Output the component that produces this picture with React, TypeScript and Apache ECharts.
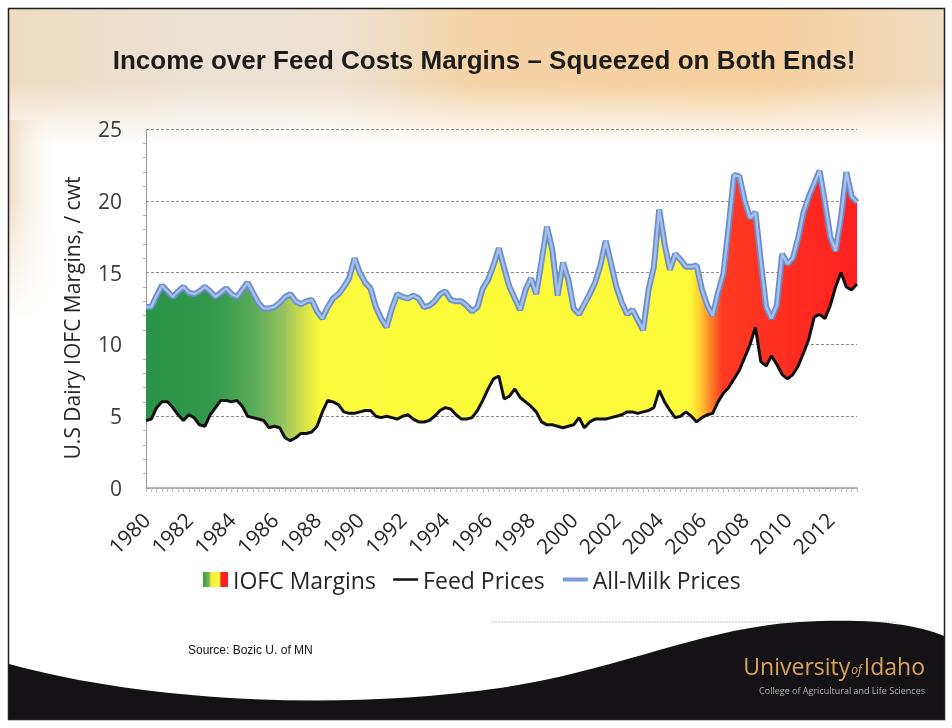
import React, { useEffect, useRef } from "react";
import * as echarts from "echarts";

// ---- Data (quarterly, 1980 Q1 .. 2013 Q2), $/cwt ----
const startYear = 1980;
const quarterCount = 134;

const milkPrices = [
  12.6, 12.6, 13.4, 14.1, 13.7, 13.3, 13.7, 14.0, 13.6, 13.5,
  13.7, 14.0, 13.7, 13.3, 13.6, 13.9, 13.5, 13.3, 13.8, 14.3,
  13.6, 12.9, 12.5, 12.5, 12.6, 12.9, 13.3, 13.5, 13.0, 12.8,
  13.0, 13.1, 12.3, 11.8, 12.6, 13.2, 13.5, 14.0, 14.6, 16.0,
  15.0, 14.3, 13.9, 12.6, 11.8, 11.2, 12.5, 13.5, 13.3, 13.2,
  13.4, 13.2, 12.6, 12.7, 13.0, 13.5, 13.7, 13.1, 13.0, 13.0,
  12.7, 12.3, 12.6, 13.9, 14.5, 15.5, 16.7, 15.3, 14.0, 13.2,
  12.4, 13.8, 14.6, 13.5, 15.8, 18.2, 16.6, 13.4, 15.7, 14.5,
  12.5, 12.1, 12.8, 13.5, 14.3, 15.5, 17.2, 15.6, 14.0, 12.9,
  12.1, 12.4, 11.7, 11.0, 13.8, 15.4, 19.4, 17.0, 15.2, 16.3,
  15.9, 15.4, 15.4, 15.5, 13.8, 12.7, 12.0, 13.6, 14.9, 18.2,
  21.8, 21.7, 20.0, 18.8, 19.2, 15.8, 12.6, 11.8, 12.7, 16.3,
  15.6, 16.0, 17.4, 19.2, 20.3, 21.2, 22.1, 19.9, 17.5, 16.5,
  18.8, 22.0, 20.3, 19.9,
];

const feedPrices = [
  4.7, 4.8, 5.6, 6.0, 6.0, 5.6, 5.1, 4.7, 5.1, 4.9,
  4.4, 4.3, 5.1, 5.6, 6.1, 6.1, 6.0, 6.1, 5.7, 5.0,
  4.9, 4.8, 4.7, 4.2, 4.3, 4.2, 3.5, 3.3, 3.5, 3.8,
  3.8, 3.9, 4.3, 5.3, 6.1, 6.0, 5.8, 5.3, 5.2, 5.2,
  5.3, 5.4, 5.4, 5.0, 4.9, 5.0, 4.9, 4.8, 5.0, 5.1,
  4.8, 4.6, 4.6, 4.7, 5.0, 5.4, 5.6, 5.5, 5.1, 4.8,
  4.8, 4.9, 5.4, 6.1, 6.9, 7.6, 7.8, 6.2, 6.4, 6.9,
  6.3, 6.0, 5.7, 5.3, 4.6, 4.4, 4.4, 4.3, 4.2, 4.3,
  4.4, 4.9, 4.2, 4.6, 4.8, 4.8, 4.8, 4.9, 5.0, 5.1,
  5.3, 5.3, 5.2, 5.3, 5.4, 5.6, 6.8, 6.0, 5.4, 4.9,
  5.0, 5.3, 5.0, 4.6, 4.9, 5.1, 5.2, 6.0, 6.6, 7.0,
  7.6, 8.2, 9.1, 10.0, 11.2, 8.8, 8.5, 9.2, 8.6, 7.9,
  7.6, 7.9, 8.5, 9.4, 10.4, 11.9, 12.1, 11.8, 12.7, 14.0,
  15.0, 14.0, 13.8, 14.2,
];

const legendNames = ["IOFC Margins", "Feed Prices", "All-Milk Prices"];
const yAxisTitle = "U.S Dairy IOFC Margins, / cwt";
const titleText = "Income over Feed Costs Margins \u2013 Squeezed on Both Ends!";
const sourceText = "Source: Bozic U. of MN";

const quarterLabels: string[] = [];
for (let i = 0; i < quarterCount; i++) {
  quarterLabels.push(`${startYear + Math.floor(i / 4)} Q${(i % 4) + 1}`);
}

const SWOOSH =
  "M 9 664 C 140 700 330 712 500 688 C 620 670 700 628 800 622 C 870 618 915 624 944 636 L 944 720 L 9 720 Z";
let registered = false;
function ensureShapes() {
  if (registered) return;
  registered = true;
  echarts.graphic.registerShape("swoosh", echarts.graphic.extendPath(SWOOSH, {}) as any);
}

const FONT = '"Open Sans", "Noto Sans", sans-serif';

export default function App() {
  const ref = useRef<HTMLDivElement>(null);

  useEffect(() => {
    if (!ref.current) return;
    ensureShapes();
    const chart = echarts.init(ref.current, undefined, { renderer: "svg" });

    const margins = milkPrices.map((m, i) => +(m - feedPrices[i]).toFixed(2));

    const areaGradient = new echarts.graphic.LinearGradient(0, 0, 1, 0, [
      { offset: 0, color: "#2a9446" },
      { offset: 0.096, color: "#33994c" },
      { offset: 0.152, color: "#5aab5a" },
      { offset: 0.194, color: "#97c45f" },
      { offset: 0.222, color: "#d6e24a" },
      { offset: 0.246, color: "#fbfa3c" },
      { offset: 0.765, color: "#fcfa3a" },
      { offset: 0.779, color: "#ffcf30" },
      { offset: 0.793, color: "#ff8a28" },
      { offset: 0.81, color: "#ff3a22" },
      { offset: 1, color: "#ff2020" },
    ]);

    const legendGradient = new echarts.graphic.LinearGradient(0, 0, 1, 0, [
      { offset: 0, color: "#3a9a48" },
      { offset: 0.22, color: "#6fb450" },
      { offset: 0.34, color: "#f5f040" },
      { offset: 0.66, color: "#f8f440" },
      { offset: 0.72, color: "#ff2020" },
      { offset: 1, color: "#ff2020" },
    ]);

    const topBand = new echarts.graphic.LinearGradient(0, 0, 1, 0, [
      { offset: 0, color: "#eddcc0" },
      { offset: 0.2, color: "#ebe2d4" },
      { offset: 0.35, color: "#ede2d2" },
      { offset: 0.5, color: "#f5d3a6" },
      { offset: 0.8, color: "#f6cf9c" },
      { offset: 1, color: "#f1dcc2" },
    ]);
    const fade = new echarts.graphic.LinearGradient(0, 0, 0, 1, [
      { offset: 0, color: "rgba(255,255,255,0)" },
      { offset: 0.55, color: "rgba(255,255,255,0)" },
      { offset: 1, color: "rgba(255,255,255,1)" },
    ]);
    const leftFade = new echarts.graphic.LinearGradient(0, 0, 1, 0, [
      { offset: 0, color: "rgba(236,220,192,0.9)" },
      { offset: 1, color: "rgba(255,255,255,0)" },
    ]);
    const leftFadeV = new echarts.graphic.LinearGradient(0, 0, 0, 1, [
      { offset: 0, color: "rgba(255,255,255,0)" },
      { offset: 1, color: "rgba(255,255,255,1)" },
    ]);

    const hiddenSymbol = { color: "rgba(0,0,0,0)", borderWidth: 0, opacity: 0 };

    const option: any = {
      animation: false,
      backgroundColor: "transparent",
      textStyle: { fontFamily: FONT },
      grid: { left: 146, right: 95, top: 129, bottom: 240, containLabel: false },
      legend: {
        left: 203,
        top: 568,
        itemGap: 16,
        itemWidth: 25,
        itemHeight: 15,
        padding: 0,
        textStyle: { fontSize: 23, color: "#262626", fontFamily: FONT },
        data: [
          { name: legendNames[0], icon: "rect", itemStyle: { color: legendGradient } },
          { name: legendNames[1], lineStyle: { color: "#111", width: 2.5 }, itemStyle: hiddenSymbol },
          { name: legendNames[2], lineStyle: { color: "#7a9ddb", width: 4 }, itemStyle: hiddenSymbol },
        ],
      },
      xAxis: {
        type: "category",
        data: quarterLabels,
        boundaryGap: false,
        axisLine: { show: true, lineStyle: { color: "#a0a0a0", width: 1.5 } },
        axisTick: { show: true, interval: 0, length: 4, lineStyle: { color: "#b8b8b8" } },
        axisLabel: {
          interval: 7,
          rotate: 45,
          fontSize: 21,
          color: "#262626",
          fontFamily: FONT,
          margin: 28,
          formatter: (v: string) => v.split(" ")[0],
        },
        splitLine: { show: false },
      },
      yAxis: {
        type: "value",
        min: 0,
        max: 25,
        interval: 5,
        axisLine: { show: true, lineStyle: { color: "#9a9a9a" } },
        axisTick: { show: false },
        minorTick: { show: true, splitNumber: 5, length: 3, lineStyle: { color: "#b0b0b0" } },
        axisLabel: { fontSize: 21, color: "#3b3b3b", margin: 24, fontFamily: FONT },
        splitLine: { show: true, lineStyle: { color: "#8a8a8a", type: [3, 2], width: 1 } },
      },
      series: [
        {
          name: legendNames[1],
          type: "line",
          stack: "iofc",
          data: feedPrices,
          symbol: "none",
          lineStyle: { color: "#111", width: 3 },
          itemStyle: { color: "#111" },
          z: 4,
        },
        {
          name: legendNames[0],
          type: "line",
          stack: "iofc",
          data: margins,
          symbol: "none",
          lineStyle: { width: 0, opacity: 0 },
          itemStyle: { color: "#fbfa3c" },
          areaStyle: { color: areaGradient, opacity: 1 },
          z: 2,
        },
        {
          name: "milkEdge",
          type: "line",
          data: milkPrices,
          symbol: "none",
          silent: true,
          lineStyle: { color: "#6a8dcc", width: 6 },
          z: 5,
        },
        {
          name: legendNames[2],
          type: "line",
          data: milkPrices,
          symbol: "none",
          lineStyle: { color: "#a6c0ea", width: 2.5 },
          itemStyle: { color: "#7a9ddb" },
          z: 6,
        },
      ],
      graphic: [
        { type: "rect", z: -20, silent: true, shape: { x: 0, y: 0, width: 952, height: 728 }, style: { fill: "#ffffff" } },
        { type: "rect", z: -19, silent: true, shape: { x: 9, y: 9, width: 935, height: 135 }, style: { fill: topBand } },
        { type: "rect", z: -18, silent: true, shape: { x: 9, y: 9, width: 935, height: 136 }, style: { fill: fade } },
        { type: "rect", z: -17, silent: true, shape: { x: 9, y: 120, width: 55, height: 200 }, style: { fill: leftFade } },
        { type: "rect", z: -16, silent: true, shape: { x: 9, y: 200, width: 60, height: 120 }, style: { fill: leftFadeV } },
        {
          type: "text",
          z: 10,
          x: 484,
          y: 60,
          style: {
            text: titleText,
            fontSize: 26,
            fontWeight: "bold",
            fontFamily: '"Liberation Sans", Arial, sans-serif',
            fill: "#1c1c1c",
            align: "center",
            verticalAlign: "middle",
          },
        },
        {
          type: "text",
          z: 10,
          x: 72,
          y: 318,
          rotation: Math.PI / 2,
          style: {
            text: yAxisTitle,
            fontSize: 21,
            fontFamily: FONT,
            fill: "#262626",
            align: "center",
            verticalAlign: "middle",
          },
        },
        {
          type: "line",
          z: 10,
          silent: true,
          shape: { x1: 492, y1: 622, x2: 898, y2: 622 },
          style: { stroke: "#bdbdbd", lineWidth: 1, lineDash: [2, 1] },
        },
        {
          type: "text",
          z: 10,
          x: 188,
          y: 650,
          style: {
            text: sourceText,
            fontSize: 12,
            fontFamily: '"Liberation Sans", Arial, sans-serif',
            fill: "#111",
            align: "left",
            verticalAlign: "middle",
          },
        },
        {
          type: "swoosh",
          z: 20,
          silent: true,
          x: 0,
          y: 0,
          style: { fill: "#141214" },
        },
        {
          type: "text",
          z: 21,
          x: 925,
          y: 666,
          style: {
            text: "{a|University}{b|of}{a|Idaho}",
            align: "right",
            verticalAlign: "middle",
            rich: {
              a: { fontSize: 23, fontFamily: FONT, fill: "#dba25e", fontWeight: "normal" },
              b: { fontSize: 12, fontFamily: FONT, fill: "#dba25e", fontStyle: "italic", padding: [6, 2, 0, 1] },
            },
          },
        },
        {
          type: "text",
          z: 21,
          x: 925,
          y: 690,
          style: {
            text: "College of Agricultural and Life Sciences",
            fontSize: 9,
            fontFamily: FONT,
            fill: "#b5b5b5",
            align: "right",
            verticalAlign: "middle",
          },
        },
        {
          type: "rect",
          z: 30,
          silent: true,
          shape: { x: 8.5, y: 8.5, width: 936, height: 711 },
          style: { fill: "none", stroke: "#1e1e1e", lineWidth: 1.5 },
        },
      ],
    };

    chart.setOption(option);
    return () => chart.dispose();
  }, []);

  return (
    <div
      ref={ref}
      style={{ position: "fixed", left: 0, top: 0, width: 952, height: 728 }}
    />
  );
}
